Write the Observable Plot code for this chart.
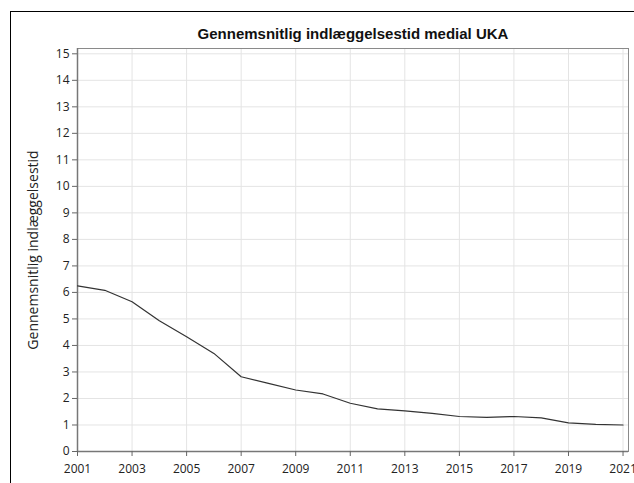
<!DOCTYPE html>
<html><head><meta charset="utf-8">
<script src="https://cdn.jsdelivr.net/npm/d3@7"></script>
<script src="https://cdn.jsdelivr.net/npm/@observablehq/plot@0.6"></script>
<style>
html,body{margin:0;padding:0;background:#fff;overflow:hidden;}
#wrap{position:relative;width:634px;height:483px;}
#border{position:absolute;left:10px;top:11px;width:700px;height:600px;border:1.5px solid #000;box-sizing:border-box;}
#chart{position:absolute;left:0;top:0;}
</style></head>
<body><div id="wrap"><div id="border"></div><div id="chart"></div></div>
<script>
const title = "Gennemsnitlig indlæggelsestid medial UKA";
const yLabel = "Gennemsnitlig indlæggelsestid";
const years = [2001,2002,2003,2004,2005,2006,2007,2008,2009,2010,2011,2012,2013,2014,2015,2016,2017,2018,2019,2020,2021];
const values = [6.25,6.08,5.65,4.93,4.33,3.70,2.82,2.57,2.32,2.17,1.82,1.61,1.53,1.44,1.32,1.29,1.32,1.27,1.08,1.02,1.00];
const xTicks = [2001,2003,2005,2007,2009,2011,2013,2015,2017,2019,2021];
const yTicks = [0,1,2,3,4,5,6,7,8,9,10,11,12,13,14,15];

const data = years.map((y,i)=>({year:y, value:values[i]}));

const chart = Plot.plot({
  width: 634,
  height: 483,
  marginLeft: 77,
  marginRight: 6,
  marginTop: 48,
  marginBottom: 32,
  style: {fontFamily: "'Open Sans', sans-serif", fontSize: "12px", color: "#222", background: "transparent"},
  x: {domain: [2001, 2021.2], ticks: xTicks, tickFormat: d => String(d), label: null, tickSize: 5},
  y: {domain: [0, 15.2], ticks: yTicks, label: null, tickSize: 5},
  marks: [
    Plot.gridY(yTicks, {stroke: "#e4e4e4", strokeOpacity: 1}),
    Plot.gridX(xTicks, {stroke: "#e4e4e4", strokeOpacity: 1}),
    Plot.frame({stroke: "#8a8a8a"}),
    Plot.ruleY([0], {stroke: "#777", strokeWidth: 1.5}),
    Plot.ruleX([2001], {stroke: "#777", strokeWidth: 1.5}),
    Plot.axisX({ticks: xTicks, tickFormat: d => String(d), tickSize: 5, tickPadding: 8, stroke: "#666", fontSize: 12, label: null}),
    Plot.axisY({ticks: yTicks, tickSize: 5, tickPadding: 3, stroke: "#666", fontSize: 12, label: null}),
    Plot.line(data, {x: "year", y: "value", stroke: "#333", strokeWidth: 1.2}),
    Plot.text([title], {frameAnchor: "top", dy: -20, text: d => d, fontWeight: "bold", fontSize: 15, fontFamily: "'Liberation Sans', Arial, sans-serif", fill: "#111"}),
    Plot.text([yLabel], {frameAnchor: "left", dx: -44, rotate: -90, textAnchor: "middle", text: d => d, fontSize: 14, fill: "#222"})
  ]
});
document.getElementById("chart").appendChild(chart);
</script>
</body></html>
